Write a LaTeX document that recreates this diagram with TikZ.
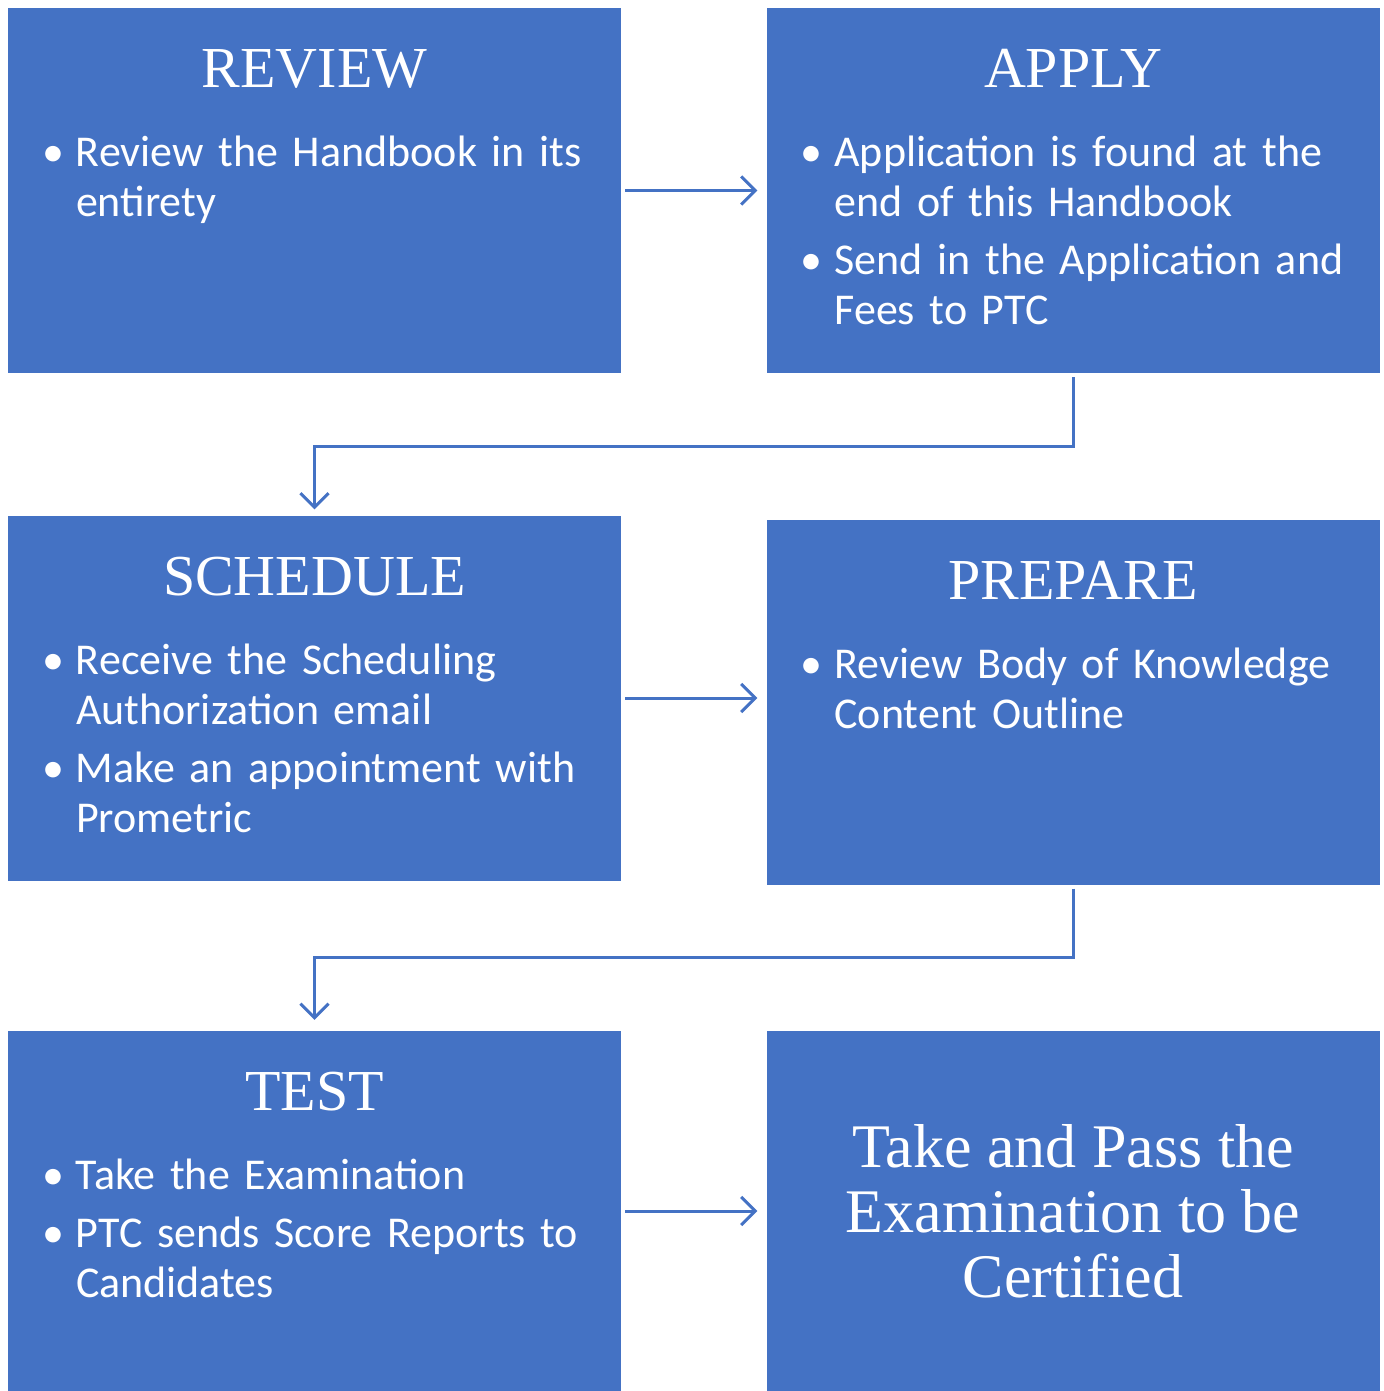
\documentclass[tikz,border=0pt]{standalone}
\usepackage{fontspec}
\setmainfont{Carlito}
\newfontfamily\headfont{Liberation Serif}
\usepackage{tikz}
\usetikzlibrary{arrows.meta,positioning}
\definecolor{officeblue}{RGB}{68,114,196}
\newcommand{\bitem}[1]{\par\hangindent=34pt\hangafter=1\noindent\makebox[34pt][l]{•}#1\par\vspace{8pt}}

\begin{document}
\begin{tikzpicture}
              [x=1pt,y=-1pt,
                every node/.style={text=white,inner sep=0pt},
                stepbox/.style={rectangle,draw=none,fill=officeblue,minimum width=613pt,minimum height=365pt},
                head/.style={font=\headfont\fontsize{58}{65}\selectfont},
                body/.style={font=\fontsize{44}{50}\selectfont,text width=600pt,align=left},
                flow/.style={draw=officeblue,line width=3pt,-{Straight Barb[length=14pt,width=28pt]}}]
              \useasboundingbox (0,0) rectangle (1383,1391);
              \node[stepbox] (review) at (314.5,190.5) {};
              \node[stepbox] (apply) at (1073,190.5) {};
              \node[stepbox] (schedule) at (314.5,698) {};
              \node[stepbox] (prepare) at (1073,702) {};
              \node[stepbox,minimum height=360pt] (test) at (314.5,1211) {};
              \node[stepbox,minimum height=360pt] (certify) at (1073,1211) {};
              % titles
              \node[head,anchor=base] (t1) at ([yshift=-80pt]review.north) {REVIEW};
              \node[head,anchor=base] (t2) at ([yshift=-80pt]apply.north) {APPLY};
              \node[head,anchor=base] (t3) at ([yshift=-80pt]schedule.north) {SCHEDULE};
              \node[head,anchor=base] (t4) at ([yshift=-80pt]prepare.north) {PREPARE};
              \node[head,anchor=base] (t5) at ([yshift=-80pt]test.north) {TEST};
              % bullets
              \node[body,anchor=base west] (b1) at ([xshift=34pt,yshift=-109pt]review.north west)
                {\bitem{Review the Handbook in its\newline entirety}};
              \node[body,anchor=base west] (b2) at ([xshift=34pt,yshift=-109pt]apply.north west)
                {\bitem{Application is found at the\newline end of this Handbook}\bitem{Send in the Application and\newline Fees to PTC}};
              \node[body,anchor=base west] (b3) at ([xshift=34pt,yshift=-109pt]schedule.north west)
                {\bitem{Receive the Scheduling\newline Authorization email}\bitem{Make an appointment with\newline Prometric}};
              \node[body,anchor=base west] (b4) at ([xshift=34pt,yshift=-109pt]prepare.north west)
                {\bitem{Review Body of Knowledge\newline Content Outline}};
              \node[body,anchor=base west] (b5) at ([xshift=34pt,yshift=-109pt]test.north west)
                {\bitem{Take the Examination}\bitem{PTC sends Score Reports to\newline Candidates}};
              \node[head,align=center,font=\headfont\fontsize{62}{65}\selectfont] (c1) at (certify.center)
                {Take and Pass the\\Examination to be\\Certified};
              % connectors
              \foreach \from/\to in {review/apply,schedule/prepare,test/certify}
              \draw[flow] ([xshift=4pt]\from.east) -- ([xshift=-9pt]\to.west |- \from.east);
              \draw[flow] ([yshift=-4pt]apply.south) -- ++(0,69) -| ([yshift=6pt]schedule.north);
              \draw[flow] ([yshift=-4pt]prepare.south) -- ++(0,69) -| ([yshift=11pt]test.north);
            \end{tikzpicture}
\end{document}
